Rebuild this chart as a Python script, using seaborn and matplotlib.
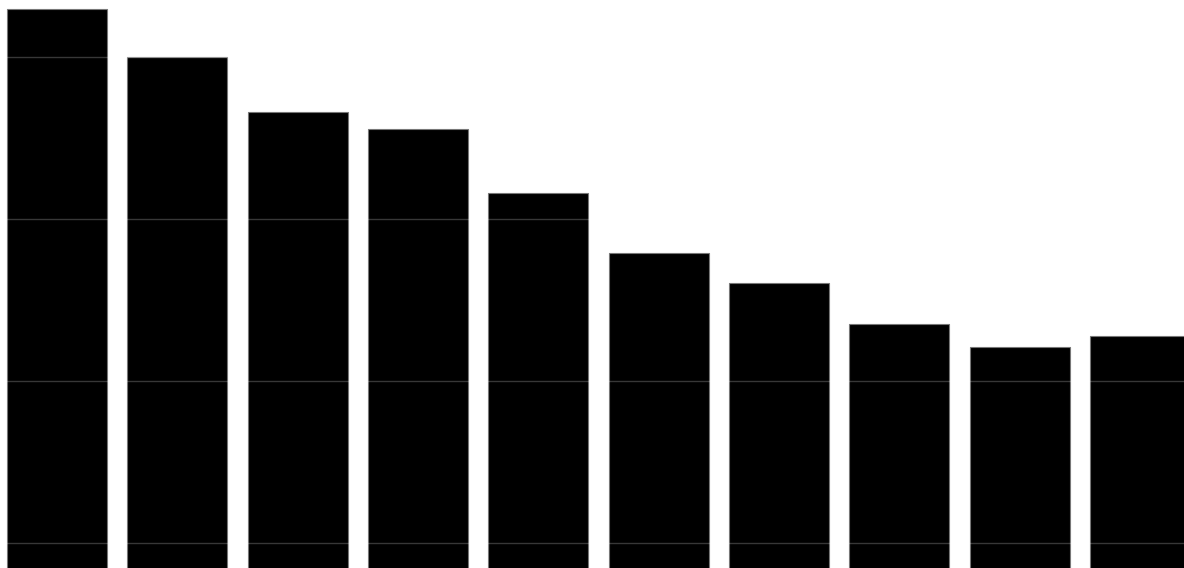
import pandas as pd
import matplotlib.pyplot as plt
import seaborn as sns

# bar heights (arbitrary units, grid every 20)
categories = ["A", "B", "C", "D", "E", "F", "G", "H", "I", "J"]
values = [85.9, 80.0, 73.2, 71.1, 63.2, 55.8, 52.1, 47.0, 44.2, 45.6]
grid_ticks = [20, 40, 60, 80]

data = pd.DataFrame({"cat": categories, "val": values})

sns.set_style("white")
fig = plt.figure(figsize=(11.84, 5.68), dpi=100)
ax = fig.add_axes([0, 0, 1, 1])

sns.barplot(data=data, x="cat", y="val", color="black", saturation=1,
            width=0.83, edgecolor="#777777", linewidth=0.8, ax=ax)

ax.set_xlim(-0.474, 9.366)
ax.set_ylim(16.91, 87.04)
ax.set_yticks(grid_ticks)
# light grid drawn over the bars: only shows up on the black
ax.set_axisbelow(False)
ax.grid(axis="y", color="white", alpha=0.22, linewidth=1)
ax.tick_params(left=False, bottom=False, labelleft=False, labelbottom=False)
ax.set_xlabel("")
ax.set_ylabel("")
sns.despine(ax=ax, left=True, bottom=True)

plt.savefig("out.png", dpi=100)
plt.close()
